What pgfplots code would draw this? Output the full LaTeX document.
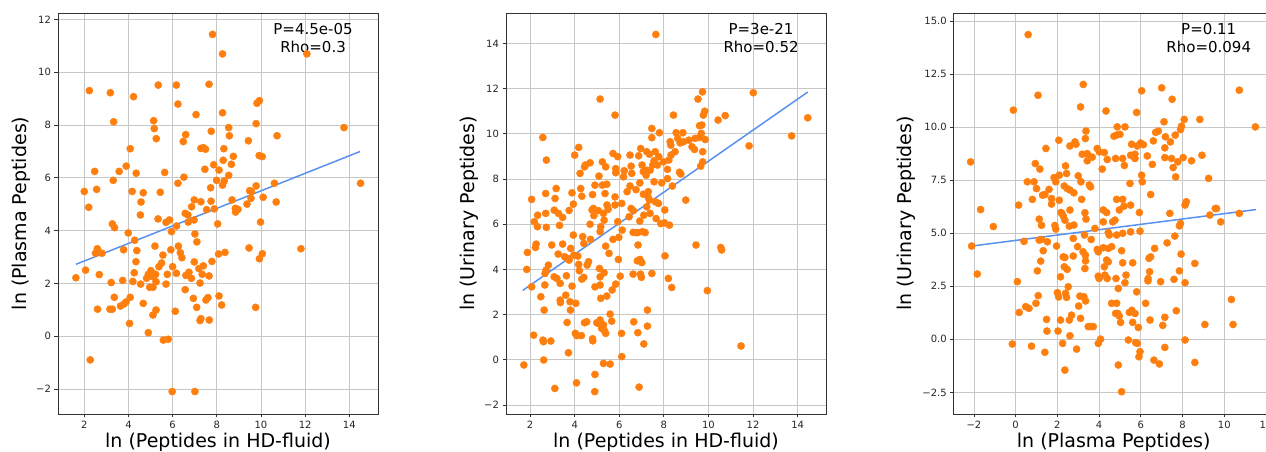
\documentclass[border=0pt]{standalone}
\usepackage{fontspec}
\setmainfont{DejaVu Sans}
\usepackage{pgfplots}
\pgfplotsset{compat=1.18}

\definecolor{mplorange}{HTML}{FF7F0E}
\definecolor{fitblue}{RGB}{90,145,240}

\pgfplotsset{
  panel/.style={
    scale only axis, width=320pt, height=401pt, anchor=south west,
    axis line style={black!80, line width=0.9pt},
    tick pos=left, tick align=outside, major tick length=3.5pt,
    tick style={black!80, line width=0.8pt},
    grid=major, major grid style={black!22, line width=0.8pt},
    ticklabel style={font=\fontsize{10}{12}\selectfont, text=black!85},
    label style={font=\fontsize{19}{22}\selectfont},
    xlabel style={at={(axis description cs:0.5,-0.07)}, anchor=center},
    ylabel style={at={(axis description cs:-0.116,0.5)}, anchor=center},
  },
  dots/.style={only marks, mark=*, mark size=3.6pt, color=mplorange},
  fit/.style={no marks, fitblue, line width=1.5pt},
}

\begin{document}
\begin{tikzpicture}[x=1pt,y=1pt]

% panel 1: HD-fluid vs plasma
\begin{axis}[panel, at={(58pt,38pt)},
  xmin=0.81, xmax=15.3, ymin=-2.95, ymax=12.24,
  xtick={2,4,...,14}, xticklabels={2,4,6,8,10,12,14},
  ytick={-2,0,...,12}, yticklabels={−2,0,2,4,6,8,10,12},
  xlabel={ln (Peptides in HD-fluid)}, ylabel={ln (Plasma Peptides)}]
\addplot[dots] coordinates {
(1.62,2.21) (2.06,2.50) (2.0,5.48) (2.2,4.88) (2.23,9.30) (2.27,-0.90)
(2.47,6.24) (2.56,5.56) (2.59,3.31) (2.51,3.14) (2.68,2.33) (2.6,1.02)
(2.8,3.14) (3.18,9.22) (3.33,8.12) (3.31,5.90) (3.27,4.25) (3.37,4.11)
(3.22,2.03) (3.36,1.47) (3.16,1.02) (3.27,1.02) (3.58,6.24) (3.9,6.44)
(3.78,3.27) (3.74,2.11) (3.64,1.14) (3.8,1.22) (3.89,1.29) (4.08,7.10)
(3.99,3.91) (4.23,9.07) (4.17,5.48) (4.35,6.17) (4.28,3.63) (4.38,3.24)
(4.34,2.82) (4.26,2.40) (4.2,2.07) (4.08,1.47) (4.05,0.48) (4.55,1.97)
(4.67,5.43) (4.57,5.08) (4.54,4.59) (4.67,1.24) (4.82,2.19) (4.9,2.34)
(5.02,2.48) (5.1,2.25) (4.9,0.13) (4.96,1.85) (5.11,1.85) (5.14,8.16)
(5.17,7.86) (5.26,7.48) (5.2,3.41) (5.23,2.34) (5.25,2.06) (5.25,0.99)
(5.11,0.80) (5.35,9.51) (5.44,5.45) (5.34,4.44) (5.38,2.63) (5.5,2.77)
(5.56,3.07) (5.58,-0.15) (5.8,-0.12) (5.64,6.20) (5.7,1.97) (5.76,2.34)
(5.7,4.31) (5.86,4.40) (5.92,3.27) (5.95,3.96) (6.0,2.63) (5.98,-2.10)
(6.17,9.51) (6.24,8.79) (6.24,5.79) (6.18,4.17) (6.26,3.41) (6.12,0.94)
(6.17,2.38) (6.35,3.16) (6.42,2.97) (6.51,6.02) (6.48,7.37) (6.59,7.63)
(6.57,4.65) (6.69,4.59) (6.71,4.32) (6.6,2.30) (6.57,1.76) (6.74,2.42)
(6.85,2.19) (6.86,4.90) (6.97,4.40) (6.98,5.16) (7.06,8.39) (7.01,3.87)
(6.98,2.81) (6.94,1.43) (7.09,1.09) (7.01,-2.10) (7.1,3.57) (7.19,2.56)
(7.28,5.09) (7.24,2.01) (7.28,7.11) (7.39,7.14) (7.49,7.08) (7.39,2.66)
(7.34,2.34) (7.24,0.59) (7.28,0.66) (7.46,6.32) (7.54,4.79) (7.51,1.37)
(7.6,1.46) (7.65,9.54) (7.66,0.61) (7.65,2.28) (7.75,7.76) (7.72,5.62)
(7.74,5.11) (7.78,2.83) (7.81,11.43) (7.86,6.49) (7.89,4.82) (7.99,5.90)
(8.1,6.29) (8.04,4.25) (8.08,3.11) (8.1,1.52) (8.22,1.18) (8.26,10.69)
(8.26,8.46) (8.32,7.10) (8.29,6.66) (8.26,5.72) (8.34,5.88) (8.37,3.17)
(8.54,7.90) (8.57,7.59) (8.54,6.09) (8.66,6.51) (8.75,6.81) (8.69,5.16)
(8.84,4.84) (8.85,4.70) (8.96,4.80) (9.43,7.40) (9.37,5.0) (9.49,5.51)
(9.55,5.22) (9.46,3.34) (9.78,5.69) (9.78,8.05) (9.82,8.82) (9.93,8.92)
(9.92,6.84) (10.06,6.80) (9.76,1.09) (9.98,4.32) (9.93,2.93) (10.06,3.12)
(10.1,5.26) (10.61,5.79) (10.69,5.08) (10.73,7.59) (11.81,3.31) (12.08,10.69)
(13.76,7.90) (14.51,5.79) (9.57,5.48)
};
\addplot[fit] coordinates {(1.62,2.72) (14.48,6.99)};
\node[align=center, font=\fontsize{15}{18}\selectfont] at (rel axis cs:0.797,0.938) {P=4.5e-05\\Rho=0.3};
\end{axis}

% panel 2: HD-fluid vs urine
\begin{axis}[panel, at={(506pt,38pt)},
  xmin=0.92, xmax=15.27, ymin=-2.4, ymax=15.35,
  xtick={2,4,...,14}, xticklabels={2,4,6,8,10,12,14},
  ytick={-2,0,...,14}, yticklabels={−2,0,2,4,6,8,10,12,14},
  xlabel={ln (Peptides in HD-fluid)}, ylabel={ln (Urinary Peptides)}]
\addplot[dots] coordinates {
(1.72,-0.23) (1.85,4.0) (1.88,4.75) (2.07,3.23) (2.07,7.1) (2.19,6.11)
(2.24,4.97) (2.27,5.12) (2.16,1.09) (2.33,5.89) (2.34,6.40) (2.48,2.79)
(2.57,9.84) (2.63,2.20) (2.58,0.87) (2.6,0.8) (2.61,-0.01) (2.66,3.31)
(2.67,3.82) (2.72,3.97) (2.7,7.36) (2.7,6.48) (2.73,8.84) (2.73,5.86)
(2.82,4.19) (2.93,0.83) (2.97,5.08) (3.08,3.67) (3.11,-1.27) (3.12,7.14)
(3.17,7.58) (3.08,6.62) (3.27,6.48) (3.26,4.68) (3.2,3.6) (3.35,3.38)
(3.32,5.95) (3.35,2.64) (3.36,2.53) (3.46,6.3) (3.46,5.12) (3.55,4.56)
(3.6,2.86) (3.63,3.72) (3.66,1.65) (3.72,0.31) (3.67,4.49) (3.75,4.41)
(3.75,6.61) (3.79,2.57) (3.81,2.2) (3.82,4.93) (3.88,3.26) (3.88,7.39)
(3.94,5.52) (3.94,6.89) (4.0,9.06) (3.96,4.63) (4.05,2.5) (4.03,1.17)
(4.09,1.07) (4.08,-1.02) (4.14,4.59) (4.18,4.22) (4.21,3.94) (4.18,9.40)
(4.24,8.25) (4.27,7.58) (4.32,7.24) (4.32,3.57) (4.3,1.07) (4.36,5.45)
(4.41,3.65) (4.41,5.15) (4.44,8.54) (4.48,8.62) (4.44,1.64) (4.54,1.68)
(4.56,4.19) (4.62,4.34) (4.69,8.72) (4.71,5.33) (4.69,6.0) (4.8,7.31)
(4.78,6.63) (4.84,6.70) (4.86,6.38) (4.8,0.93) (4.81,0.84) (4.9,-1.41)
(4.91,-0.65) (4.91,3.23) (4.91,7.73) (4.99,1.64) (5.06,1.61) (5.06,6.6)
(5.09,8.13) (5.14,11.54) (5.14,5.67) (5.17,5.89) (5.11,4.04) (5.14,3.67)
(5.14,3.31) (5.17,2.72) (5.14,1.76) (5.21,1.39) (5.29,1.54) (5.32,1.31)
(5.29,-0.16) (5.24,8.76) (5.24,7.73) (5.36,7.36) (5.29,6.48) (5.32,6.18)
(5.32,3.85) (5.39,8.54) (5.39,5.03) (5.44,2.82) (5.39,1.17) (5.44,7.77)
(5.45,6.85) (5.5,6.66) (5.54,4.71) (5.59,2.02) (5.59,-0.19) (5.66,1.71)
(5.68,3.09) (5.72,9.13) (5.72,5.33) (5.81,10.83) (5.81,7.21) (5.81,6.85)
(5.84,8.46) (5.84,8.28) (5.84,3.35) (5.93,8.99) (5.93,6.11) (5.96,4.44)
(5.98,5.42) (6.04,3.7) (6.1,1.17) (6.11,0.14) (6.11,6.92) (6.13,5.74)
(6.19,8.1) (6.22,8.37) (6.35,7.44) (6.44,6.33) (6.48,9.06) (6.53,8.57)
(6.56,8.25) (6.48,7.69) (6.53,6.70) (6.63,6.6) (6.62,5.64) (6.62,3.79)
(6.65,1.68) (6.75,7.53) (6.75,5.63) (6.83,5.63) (6.81,4.38) (6.84,5.08)
(6.83,1.2) (6.89,-1.21) (6.87,9.03) (6.92,7.83) (6.92,6.14) (6.93,4.44)
(6.95,3.79) (6.96,9.35) (6.99,3.65) (7.01,4.3) (7.02,8.62) (7.08,8.33)
(7.04,5.67) (7.08,7.33) (7.1,6.4) (7.1,0.7) (7.16,5.63) (7.2,8.17)
(7.23,8.39) (7.23,6.77) (7.23,9.21) (7.26,1.49) (7.26,2.2) (7.3,7.44)
(7.3,7.19) (7.35,7.07) (7.35,9.1) (7.38,6.48) (7.38,8.39) (7.46,9.83)
(7.46,10.24) (7.46,3.82) (7.5,8.62) (7.56,8.81) (7.56,7.88) (7.61,9.21)
(7.62,6.99) (7.64,14.4) (7.65,6.25) (7.71,8.62) (7.77,8.99) (7.76,6.92)
(7.8,10.05) (7.86,6.03) (7.9,7.83) (7.98,8.76) (8.04,6.63) (8.03,6.06)
(8.05,4.6) (8.16,8.02) (8.16,8.43) (8.2,3.6) (8.22,8.84) (8.25,5.96)
(8.28,9.65) (8.31,9.5) (8.32,9.06) (8.35,3.2) (8.38,7.69) (8.43,10.83)
(8.5,9.21) (8.55,10.05) (8.62,9.8) (8.7,8.3) (8.76,8.22) (8.73,9.6)
(8.88,9.65) (8.85,10.05) (8.98,7.07) (9.12,9.72) (9.26,9.43) (9.37,9.31)
(9.44,5.08) (9.4,9.8) (9.53,11.54) (9.6,10.36) (9.59,9.84) (9.68,10.02)
(9.65,8.57) (9.73,11.86) (9.7,10.39) (9.74,9.21) (9.74,8.76) (9.77,10.83)
(9.83,11.0) (9.85,9.75) (9.95,3.06) (10.43,10.61) (10.55,4.97) (10.59,4.86)
(10.75,10.81) (11.46,0.61) (11.82,9.47) (12.01,11.82) (13.73,9.91) (14.45,10.71)
};
\addplot[fit] coordinates {(1.67,3.07) (14.45,11.85)};
\node[align=center, font=\fontsize{15}{18}\selectfont] at (rel axis cs:0.797,0.938) {P=3e-21\\Rho=0.52};
\end{axis}

% panel 3: plasma vs urine (right edge runs past the picture, as in the source)
\begin{axis}[panel, at={(953.7pt,38pt)},
  xmin=-2.97, xmax=12.37, ymin=-3.52, ymax=15.39,
  xtick={-2,0,...,12}, xticklabels={−2,0,2,4,6,8,10,12},
  ytick={-2.5,0,2.5,5,7.5,10,12.5,15},
  yticklabels={−2.5,0.0,2.5,5.0,7.5,10.0,12.5,15.0},
  ylabel style={at={(axis description cs:-0.147,0.5)}},
  xlabel={ln (Plasma Peptides)}, ylabel={ln (Urinary Peptides)}]
\addplot[dots] coordinates {
(-2.16,8.37) (-2.11,4.40) (-1.84,3.08) (-1.68,6.12) (-1.07,5.32) (-0.16,-0.22)
(-0.11,10.81) (0.08,2.72) (0.14,6.33) (0.17,1.27) (0.4,4.62) (0.48,1.54)
(0.64,1.46) (0.56,7.43) (0.6,14.37) (0.76,-0.32) (0.8,6.6) (0.88,7.43)
(0.94,8.29) (1.0,7.11) (0.97,1.7) (1.04,3.23) (1.07,11.51) (1.08,2.06)
(1.13,5.67) (1.16,8.03) (1.13,4.68) (1.24,4.71) (1.2,3.69) (1.24,5.38)
(1.29,6.8) (1.4,6.83) (1.32,4.18) (1.4,-0.61) (1.45,9.0) (1.48,0.94)
(1.5,0.39) (1.52,4.6) (1.6,7.07) (1.72,6.64) (1.72,6.38) (1.84,7.63)
(1.92,7.43) (1.88,5.37) (1.92,5.2) (1.96,4.4) (2.0,2.2) (2.06,2.0)
(2.03,0.39) (2.07,9.39) (2.09,7.74) (2.09,6.56) (2.15,2.95) (2.15,0.91)
(2.17,5.98) (2.22,5.94) (2.25,-0.19) (2.28,5.82) (2.36,5.62) (2.28,3.89)
(2.33,3.42) (2.36,3.86) (2.33,7.23) (2.39,8.18) (2.39,2.17) (2.44,1.98)
(2.36,-1.45) (2.44,7.82) (2.47,7.11) (2.47,3.3) (2.52,2.48) (2.57,5.34)
(2.6,7.04) (2.6,9.12) (2.6,0.17) (2.57,0.91) (2.6,6.1) (2.68,1.14)
(2.76,4.76) (2.79,6.91) (2.79,5.39) (2.76,3.93) (2.84,9.31) (2.89,9.2)
(2.92,-0.46) (2.97,4.37) (3.0,7.71) (3.02,1.57) (3.08,2.04) (3.11,10.96)
(3.11,0.99) (3.13,7.43) (3.16,6.6) (3.19,8.73) (3.23,4.13) (3.24,12.02)
(3.27,2.01) (3.35,1.81) (3.3,4.92) (3.32,5.97) (3.34,3.97) (3.35,3.7)
(3.32,3.34) (3.34,9.47) (3.37,9.82) (3.37,5.67) (3.43,8.76) (3.53,8.61)
(3.48,0.6) (3.59,0.6) (3.72,0.6) (3.43,8.42) (3.53,7.28) (3.59,7.19)
(3.62,4.71) (3.67,8.59) (3.8,5.23) (3.91,9.0) (3.91,4.24) (3.96,4.13)
(3.96,2.98) (4.0,2.87) (3.96,-0.19) (4.01,8.84) (4.07,0.01) (4.15,8.03)
(4.2,6.1) (4.2,5.54) (4.2,4.32) (4.25,8.81) (4.25,3.42) (4.28,3.03)
(4.33,10.77) (4.36,5.98) (4.36,3.74) (4.44,3.66) (4.39,8.48) (4.39,2.87)
(4.44,5.04) (4.49,4.92) (4.44,4.29) (4.6,4.37) (4.6,1.7) (4.65,5.54)
(4.71,9.58) (4.84,9.63) (4.76,5.62) (4.79,8.53) (4.79,1.22) (4.81,2.87)
(4.84,6.6) (4.84,1.7) (4.84,4.92) (4.87,10.02) (5.0,9.67) (4.89,1.22)
(4.97,1.1) (4.92,2.4) (4.92,-1.21) (4.97,6.1) (5.03,0.8) (5.08,4.18)
(5.08,-2.47) (5.13,5.0) (5.13,3.61) (5.13,8.53) (5.13,6.6) (5.19,6.28)
(5.21,8.2) (5.24,10.02) (5.24,2.67) (5.29,3.03) (5.4,-0.03) (5.45,1.27)
(5.48,7.35) (5.51,5.07) (5.51,6.33) (5.51,8.68) (5.56,9.2) (5.57,1.37)
(5.61,0.8) (5.61,3.61) (5.67,8.61) (5.72,8.73) (5.72,8.53) (5.72,1.22)
(5.75,-0.15) (5.83,-0.19) (5.8,10.7) (5.8,2.24) (5.83,9.12) (5.88,0.56)
(5.91,-0.82) (5.93,5.98) (5.96,-0.58) (5.96,5.1) (5.99,9.26) (6.12,9.18)
(6.04,11.72) (6.04,7.74) (6.07,7.43) (6.23,1.7) (6.31,8.65) (6.34,2.76)
(6.35,2.87) (6.39,3.82) (6.47,3.89) (6.42,3.19) (6.44,0.91) (6.47,6.83)
(6.55,8.25) (6.6,9.36) (6.63,-0.98) (6.66,4.29) (6.71,9.76) (6.84,9.82)
(6.89,-1.16) (6.95,2.72) (7.0,11.86) (7.05,0.66) (7.11,10.26) (7.15,1.04)
(7.15,-0.38) (7.15,9.03) (7.15,8.57) (7.18,9.55) (7.26,4.55) (7.39,5.94)
(7.42,9.31) (7.47,8.53) (7.5,11.32) (7.55,8.1) (7.59,2.83) (7.63,4.87)
(7.65,9.63) (7.67,7.66) (7.7,1.35) (7.77,8.37) (7.85,3.23) (7.85,5.35)
(7.9,5.46) (7.9,9.89) (7.93,4.02) (7.95,10.05) (8.03,8.57) (8.08,10.37)
(8.12,2.67) (8.12,6.33) (8.18,6.49) (8.12,-0.03) (8.43,8.42) (8.59,3.58)
(8.59,-1.09) (8.83,10.37) (8.93,8.68) (9.07,0.7) (9.25,7.59) (9.31,5.86)
(9.57,6.17) (9.63,6.17) (9.83,5.54) (10.34,1.88) (10.42,0.7) (10.72,5.94)
(10.72,11.75) (11.49,10.02)
};
\addplot[fit] coordinates {(-2.11,4.4) (11.52,6.12)};
\node[align=center, font=\fontsize{15}{18}\selectfont] at (rel axis cs:0.797,0.938) {P=0.11\\Rho=0.094};
\end{axis}

\pgfresetboundingbox
\useasboundingbox (0,0) rectangle (1266,452);
\end{tikzpicture}
\end{document}
